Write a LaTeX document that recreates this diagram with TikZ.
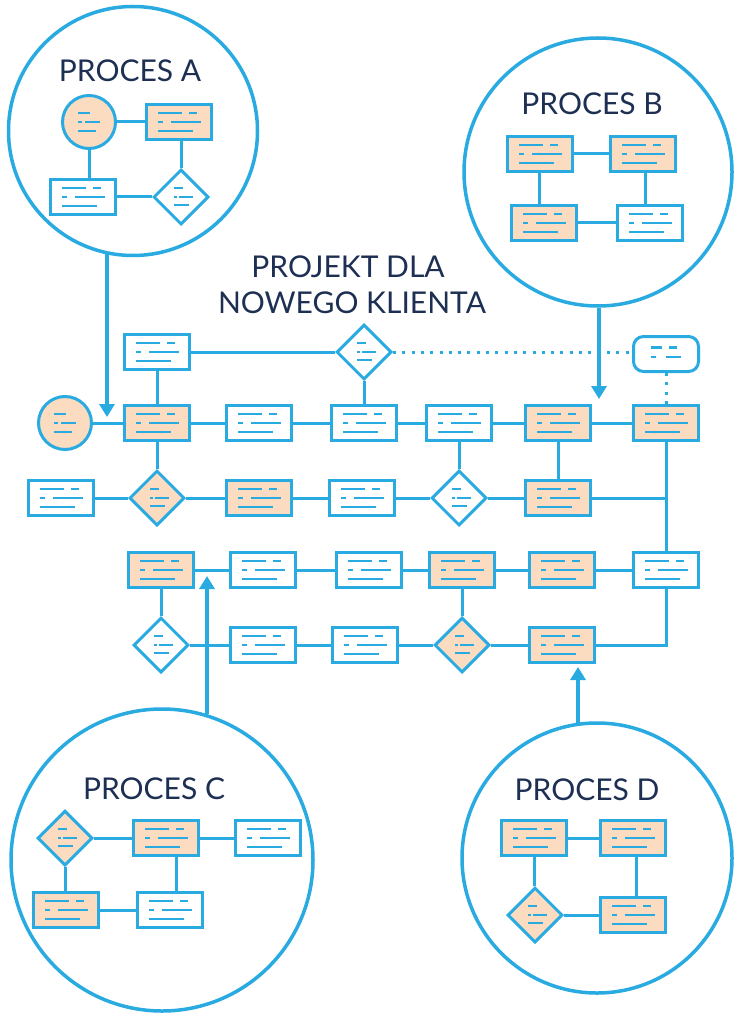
\documentclass[tikz,border=0pt]{standalone}
\usepackage{fontspec}
\setmainfont{Lato}
\usetikzlibrary{arrows.meta, shapes.geometric, calc}
\definecolor{procblue}{RGB}{41,171,226}
\definecolor{procpeach}{RGB}{252,220,192}
\definecolor{procnavy}{RGB}{29,47,82}
\tikzset{
  >={Triangle[width=15pt,length=13pt]},
  % kreski zamiast tekstu
  dash line/.style={draw=procblue,line width=2.3pt},
  % ksztalty schematu
  proc box/.style={rectangle,draw=procblue,line width=3pt,fill=white,inner sep=0pt,
    minimum width=65pt,minimum height=35pt,
    path picture={
      \path (path picture bounding box.center) coordinate (pc);
      \draw[dash line] ([shift={(-21pt,9pt)}]pc) -- ++(24pt,0pt)
        ([shift={(10pt,9pt)}]pc) -- ++(8pt,0pt)
        ([shift={(-21pt,0pt)}]pc) -- ++(5pt,0pt)
        ([shift={(-8pt,0pt)}]pc) -- ++(30pt,0pt)
        ([shift={(-21pt,-9pt)}]pc) -- ++(35pt,0pt);}},
  proc box fill/.style={proc box,fill=procpeach},
  proc dia/.style={diamond,aspect=1,draw=procblue,line width=3pt,fill=white,inner sep=0pt,
    minimum size=55pt,
    path picture={
      \path (path picture bounding box.center) coordinate (pc);
      \draw[dash line] ([shift={(-7pt,9pt)}]pc) -- ++(9pt,0pt)
        ([shift={(-7pt,0pt)}]pc) -- ++(3pt,0pt)
        ([shift={(-2pt,0pt)}]pc) -- ++(14pt,0pt)
        ([shift={(-7pt,-8pt)}]pc) -- ++(15pt,0pt);}},
  proc dia fill/.style={proc dia,fill=procpeach},
  proc start/.style={circle,draw=procblue,line width=3pt,fill=procpeach,inner sep=0pt,
    minimum size=53pt,
    path picture={
      \path (path picture bounding box.center) coordinate (pc);
      \draw[dash line] ([shift={(-11pt,9pt)}]pc) -- ++(12pt,0pt)
        ([shift={(-11pt,0pt)}]pc) -- ++(4pt,0pt)
        ([shift={(-4pt,0pt)}]pc) -- ++(15pt,0pt)
        ([shift={(-11pt,-9pt)}]pc) -- ++(18pt,0pt);}},
  proc note/.style={rectangle,rounded corners=10pt,draw=procblue,line width=3pt,fill=white,
    inner sep=0pt,minimum width=65pt,minimum height=35pt,
    path picture={
      \path (path picture bounding box.center) coordinate (pc);
      \draw[dash line] ([shift={(-15.5pt,6.5pt)}]pc) -- ++(11.5pt,0pt)
        ([shift={(3pt,6.5pt)}]pc) -- ++(8pt,0pt)
        ([shift={(-15.5pt,-2.8pt)}]pc) -- ++(5pt,0pt)
        ([shift={(-0.5pt,-2.8pt)}]pc) -- ++(15.5pt,0pt);}},
  bubble/.style={circle,draw=procblue,line width=3.5pt,fill=white,inner sep=0pt},
  proc title/.style={anchor=base,inner sep=0pt,text=procnavy,font=\fontsize{30}{36}\selectfont},
  % polaczenia
  link/.style={draw=procblue,line width=3pt},
  link dot/.style={link,dash pattern=on 3pt off 6.3pt},
  feed/.style={draw=procblue,line width=4pt,->}
}
\begin{document}
\begin{tikzpicture}[x=1pt,y=-1pt]
\useasboundingbox (0,0) rectangle (747,1024);

% Proces A
\node[bubble,minimum size=249pt] (procA) at (133,131) {};
\node[proc title] (titleA) at (130,82) {PROCES A};
\node[proc start] (a1) at (89,122) {};
\node[proc box fill] (a2) at (179,122) {};
\node[proc box] (a3) at (83,197) {};
\node[proc dia] (a4) at (181,197) {};
\draw[link] (a1) -- (a2);
\draw[link] (a1.south) -- (a1.south |- a3.north);
\draw[link] (a4.north |- a2.south) -- (a4.north);
\draw[link] (a3) -- (a4);

% Proces B
\node[bubble,minimum size=268pt] (procB) at (598,172) {};
\node[proc title] (titleB) at (592,115) {PROCES B};
\node[proc box fill] (b1) at (540,154) {};
\node[proc box fill] (b2) at (643,154) {};
\node[proc box fill] (b3) at (544,223) {};
\node[proc box] (b4) at (650,223) {};
\draw[link] (b1) -- (b2);
\draw[link] (b3) -- (b4);
\draw[link] (b3.north -| b1.south) ++(-1pt,0) -- ([xshift=-1pt]b1.south);
\draw[link] ([xshift=2pt]b2.south) -- ([xshift=2pt]b2.south |- b4.north);

% Proces C
\node[bubble,minimum size=302pt] (procC) at (162,860) {};
\node[proc title] (titleC) at (154,799) {PROCES C};
\node[proc dia fill] (c1) at (65,838) {};
\node[proc box fill] (c2) at (166,838) {};
\node[proc box] (c3) at (268,838) {};
\node[proc box fill] (c4) at (66,910) {};
\node[proc box] (c5) at (170,910) {};
\draw[link] (c1) -- (c2);
\draw[link] (c2) -- (c3);
\draw[link] (c1.south) -- (c1.south |- c4.north);
\draw[link] ([xshift=10pt]c2.south) -- ([xshift=10pt]c2.south |- c5.north);
\draw[link] (c4) -- (c5);

% Proces D
\node[bubble,minimum size=270pt] (procD) at (597,858) {};
\node[proc title] (titleD) at (587,800) {PROCES D};
\node[proc box fill] (d1) at (534,838) {};
\node[proc box fill] (d2) at (633,838) {};
\node[proc dia fill] (d3) at (535,915) {};
\node[proc box fill] (d4) at (633,915) {};
\draw[link] (d1) -- (d2);
\draw[link] (d1.south) -- (d1.south |- d3.north);
\draw[link] ([xshift=3pt]d2.south) -- ([xshift=3pt]d2.south |- d4.north);
\draw[link] (d3) -- (d4);

% tytul
\node[proc title] (title1) at (348,277) {PROJEKT DLA};
\node[proc title] (title2) at (352,313) {NOWEGO KLIENTA};

% rzad 0
\node[proc box] (r0c1) at (157,352) {};
\node[proc dia] (r0c3) at (364,352) {};
\node[proc note] (r0c6) at (666,354) {};
% rzad 1
\node[proc start] (r1c0) at (65,423) {};
\node[proc box fill] (r1c1) at (157,423) {};
\node[proc box] (r1c2) at (259,423) {};
\node[proc box] (r1c3) at (364,423) {};
\node[proc box] (r1c4) at (459,423) {};
\node[proc box fill] (r1c5) at (558,423) {};
\node[proc box fill] (r1c6) at (666,423) {};
% rzad 2
\node[proc box] (r2c0) at (61,498) {};
\node[proc dia fill] (r2c1) at (157,498) {};
\node[proc box fill] (r2c2) at (259,498) {};
\node[proc box] (r2c3) at (362,498) {};
\node[proc dia] (r2c4) at (459,498) {};
\node[proc box fill] (r2c5) at (558,498) {};
% rzad 3
\node[proc box fill] (r3c1) at (161,570) {};
\node[proc box] (r3c2) at (263,570) {};
\node[proc box] (r3c3) at (369,570) {};
\node[proc box fill] (r3c4) at (462,570) {};
\node[proc box fill] (r3c5) at (562,570) {};
\node[proc box] (r3c6) at (666,570) {};
% rzad 4
\node[proc dia] (r4c1) at (161,645) {};
\node[proc box] (r4c2) at (263,645) {};
\node[proc box] (r4c3) at (365,645) {};
\node[proc dia fill] (r4c4) at (462,645) {};
\node[proc box fill] (r4c5) at (562,645) {};

\foreach \a/\b in {r0c1/r0c3, r1c0/r1c1, r1c1/r1c2, r1c2/r1c3, r1c3/r1c4, r1c4/r1c5, r1c5/r1c6,
    r2c0/r2c1, r2c1/r2c2, r2c2/r2c3, r2c3/r2c4, r2c4/r2c5,
    r3c1/r3c2, r3c2/r3c3, r3c3/r3c4, r3c4/r3c5, r3c5/r3c6,
    r4c1/r4c2, r4c2/r4c3, r4c3/r4c4, r4c4/r4c5,
    r0c1/r1c1, r0c3/r1c3, r1c1/r2c1, r1c4/r2c4, r1c5/r2c5, r1c6/r3c6, r3c1/r4c1, r3c4/r4c4}
  \draw[link] (\a) -- (\b);
\draw[link] (r2c5) -- (r2c5 -| r1c6);
\draw[link] (r4c5.east) -| (r3c6.south);
\draw[link dot] (r0c3.east) -- (r0c3.east -| r0c6.west);
\draw[link dot] (r0c6.south) -- (r0c6.south |- r1c6.north);

% strzalki z procesow
\coordinate (tipA) at (107,417);
\coordinate (tipB) at (599,399);
\coordinate (tipC) at (207,576);
\coordinate (tipD) at (578,667);
\draw[feed] (tipA |- procA.258) -- (tipA);
\draw[feed] (tipB |- procB.south) -- (tipB);
\draw[feed] (tipC |- procC.73) -- (tipC);
\draw[feed] (tipD |- procD.98) -- (tipD);
\end{tikzpicture}
\end{document}
